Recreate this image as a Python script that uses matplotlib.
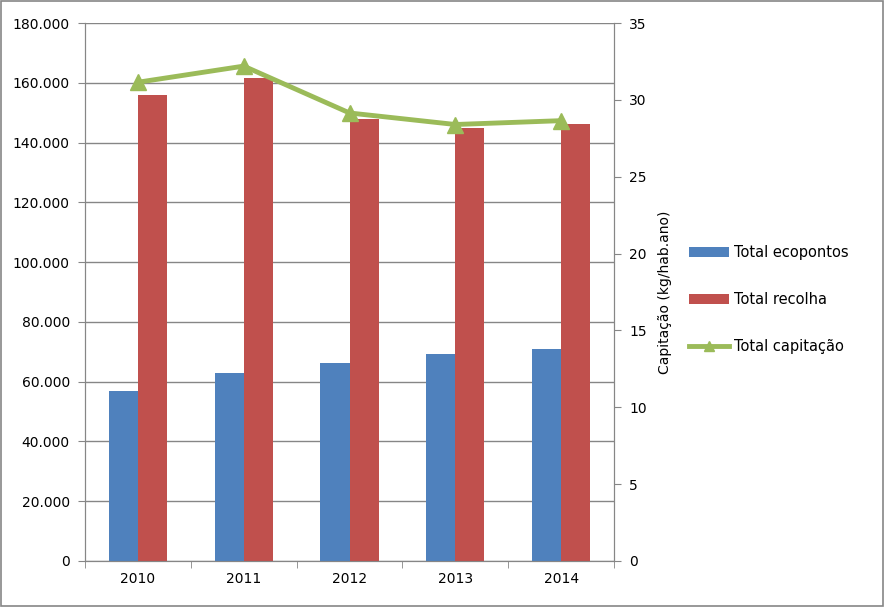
import numpy as np
import matplotlib.pyplot as plt
from matplotlib.ticker import FuncFormatter, FixedLocator
from matplotlib.patches import Rectangle

anos = ['2010', '2011', '2012', '2013', '2014']
ecopontos = [57000, 63000, 66300, 69400, 71000]
recolha = [156000, 161700, 148000, 145000, 146300]
capitacao = [31.15, 32.2, 29.15, 28.4, 28.65]

azul = '#4F81BD'
vermelho = '#C0504D'
verde = '#9BBB59'
cinza = '#868686'

plt.rcParams['font.family'] = ['DejaVu Sans']
plt.rcParams['font.size'] = 10

fig = plt.figure(figsize=(8.84, 6.07), dpi=100)
ax = fig.add_axes([0.0962, 0.0758, 0.5984, 0.8862])

x = np.arange(len(anos))
w = 0.275
ax.bar(x - w / 2, ecopontos, w, color=azul, label='Total ecopontos', zorder=3)
ax.bar(x + w / 2, recolha, w, color=vermelho, label='Total recolha', zorder=3)

ax.set_xlim(-0.5, len(anos) - 0.5)
ax.set_ylim(0, 180000)
ax.set_yticks(np.arange(0, 180001, 20000))
ax.yaxis.set_major_formatter(FuncFormatter(lambda v, p: '{:,.0f}'.format(v).replace(',', '.')))
ax.grid(axis='y', color=cinza, linewidth=1, zorder=0)
ax.set_xticks(x)
ax.set_xticklabels(anos)
ax.tick_params(axis='x', length=0, pad=8)
ax.xaxis.set_minor_locator(FixedLocator(np.arange(-0.5, len(anos), 1)))
ax.tick_params(axis='x', which='minor', length=5, color=cinza)
ax.tick_params(axis='y', length=5, color=cinza, pad=6)
for s in ['left', 'right', 'bottom']:
    ax.spines[s].set_color(cinza)
ax.spines['top'].set_visible(False)

ax2 = ax.twinx()
ax2.plot(x, capitacao, color=verde, linewidth=3.5, marker='^', markersize=11,
         label='Total capitação', zorder=4)
ax2.set_ylim(0, 35)
ax2.set_yticks(np.arange(0, 36, 5))
ax2.tick_params(axis='y', length=5, color=cinza, pad=6)
ax2.set_ylabel('Capitação (kg/hab.ano)', labelpad=8)
for s in ['left', 'right', 'bottom']:
    ax2.spines[s].set_color(cinza)
ax2.spines['top'].set_visible(False)

h1, l1 = ax.get_legend_handles_labels()
h2, l2 = ax2.get_legend_handles_labels()
fig.legend(h1 + h2, l1 + l2, loc='center left', bbox_to_anchor=(0.764, 0.506),
           frameon=False, labelspacing=2.2, handlelength=2.75, handletextpad=0.35,
           fontsize=10.5, markerscale=0.6)

fig.patches.append(Rectangle((0.001, 0.001), 0.998, 0.998, transform=fig.transFigure,
                             fill=False, edgecolor=cinza, linewidth=1.2))

fig.savefig('out.png', dpi=100)
